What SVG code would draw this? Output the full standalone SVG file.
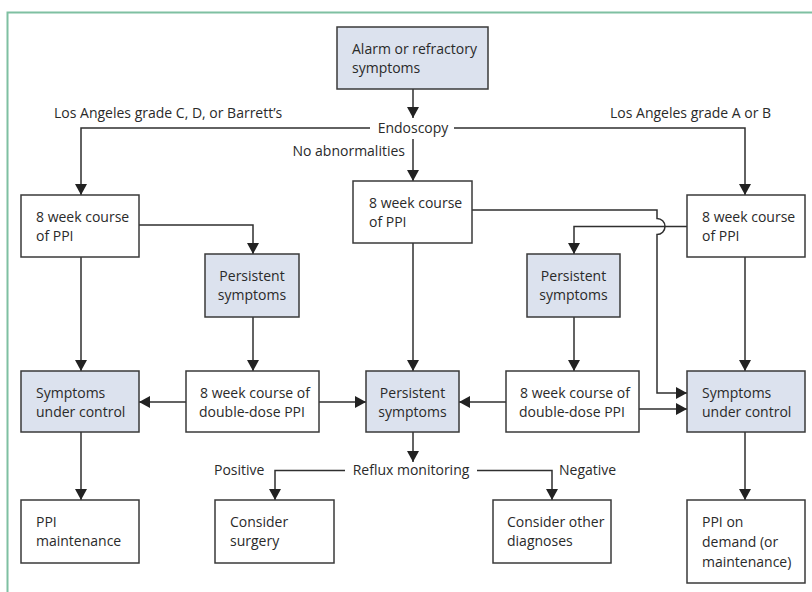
<svg xmlns="http://www.w3.org/2000/svg" width="812" height="592" viewBox="0 0 812 592">
<style>
.box{fill:#ffffff;stroke:#3a3a3a;stroke-width:1.5}
.hl{fill:#dce2ee}
.t{font-family:"Open Sans","Noto Sans",sans-serif;font-size:14px;fill:#2a2a2a}
.c{text-anchor:middle}
.e{text-anchor:end}
.ln{fill:none;stroke:#2f2f2f;stroke-width:1.5}
</style>
<defs>
<marker id="ah" markerUnits="userSpaceOnUse" markerWidth="13" markerHeight="13" refX="11" refY="6" orient="auto">
<path d="M0,0 L11,6 L0,12 z" fill="#222"/>
</marker>
</defs>
<rect x="0" y="0" width="812" height="592" fill="#ffffff"/>
<path d="M7.5,600 L7.5,12.5 L820,12.5" fill="none" stroke="#7fc0a2" stroke-width="2"/>

<g id="connectors">
<path class="ln" marker-end="url(#ah)" d="M413,89 L413,118"/>
<path class="ln" marker-end="url(#ah)" d="M370,128 L81,128 L81,195"/>
<path class="ln" marker-end="url(#ah)" d="M454,128 L745,128 L745,195"/>
<path class="ln" marker-end="url(#ah)" d="M413,139 L413,181"/>
<path class="ln" marker-end="url(#ah)" d="M139,225 L253,225 L253,254"/>
<path class="ln" marker-end="url(#ah)" d="M687,226.5 L574,226.5 L574,254"/>
<path class="ln" marker-end="url(#ah)" d="M472,210 L657,210 L657,218.5 A8,8 0 0 1 657,234.5 L657,393 L687,393"/>
<path class="ln" marker-end="url(#ah)" d="M81,257 L81,371"/>
<path class="ln" marker-end="url(#ah)" d="M253,317 L253,371"/>
<path class="ln" marker-end="url(#ah)" d="M413,243 L413,371"/>
<path class="ln" marker-end="url(#ah)" d="M574,317 L574,371"/>
<path class="ln" marker-end="url(#ah)" d="M745,257 L745,371"/>
<path class="ln" marker-end="url(#ah)" d="M186,402 L139,402"/>
<path class="ln" marker-end="url(#ah)" d="M319,402 L366,402"/>
<path class="ln" marker-end="url(#ah)" d="M506,402 L459,402"/>
<path class="ln" marker-end="url(#ah)" d="M639,409 L687,409"/>
<path class="ln" marker-end="url(#ah)" d="M413,432 L413,462"/>
<path class="ln" marker-end="url(#ah)" d="M345,470.5 L275,470.5 L275,500"/>
<path class="ln" marker-end="url(#ah)" d="M477,470.5 L552,470.5 L552,500"/>
<path class="ln" marker-end="url(#ah)" d="M81,432 L81,500"/>
<path class="ln" marker-end="url(#ah)" d="M745,432 L745,500"/>
</g>

<g id="labels">
<text class="t c" x="413" y="132.5">Endoscopy</text>
<text class="t" x="54" y="118">Los Angeles grade C, D, or Barrett’s</text>
<text class="t" x="610" y="118">Los Angeles grade A or B</text>
<text class="t e" x="405" y="156">No abnormalities</text>
<text class="t c" x="411" y="475">Reflux monitoring</text>
<text class="t" x="214" y="475">Positive</text>
<text class="t" x="559" y="475">Negative</text>
</g>

<g id="alarm"><rect class="box hl" x="337" y="27" width="151" height="62"/>
<text class="t" x="352" y="54">Alarm or refractory</text><text class="t" x="352" y="73">symptoms</text></g>

<g id="ppi_left"><rect class="box" x="21" y="195" width="118" height="62"/>
<text class="t" x="36" y="222">8 week course</text><text class="t" x="36" y="241">of PPI</text></g>

<g id="ppi_mid"><rect class="box" x="353" y="181" width="119" height="62"/>
<text class="t" x="369" y="208">8 week course</text><text class="t" x="369" y="227">of PPI</text></g>

<g id="ppi_right"><rect class="box" x="687" y="195" width="118" height="62"/>
<text class="t" x="702" y="222">8 week course</text><text class="t" x="702" y="241">of PPI</text></g>

<g id="persist_left"><rect class="box hl" x="205" y="254" width="94" height="63"/>
<text class="t c" x="252" y="281">Persistent</text><text class="t c" x="252" y="300">symptoms</text></g>

<g id="persist_right"><rect class="box hl" x="527" y="254" width="93" height="63"/>
<text class="t c" x="573.5" y="281">Persistent</text><text class="t c" x="573.5" y="300">symptoms</text></g>

<g id="control_left"><rect class="box hl" x="21" y="371" width="118" height="61"/>
<text class="t" x="36" y="397.5">Symptoms</text><text class="t" x="36" y="416.5">under control</text></g>

<g id="double_left"><rect class="box" x="186" y="371" width="133" height="61"/>
<text class="t" x="200" y="397.5">8 week course of</text><text class="t" x="199" y="416.5">double-dose PPI</text></g>

<g id="persist_mid"><rect class="box hl" x="366" y="371" width="93" height="61"/>
<text class="t c" x="412.5" y="397.5">Persistent</text><text class="t c" x="412.5" y="416.5">symptoms</text></g>

<g id="double_right"><rect class="box" x="506" y="371" width="133" height="61"/>
<text class="t" x="520" y="397.5">8 week course of</text><text class="t" x="519" y="416.5">double-dose PPI</text></g>

<g id="control_right"><rect class="box hl" x="687" y="371" width="118" height="61"/>
<text class="t" x="702" y="397.5">Symptoms</text><text class="t" x="702" y="416.5">under control</text></g>

<g id="maintenance"><rect class="box" x="21" y="500" width="118" height="63"/>
<text class="t" x="36" y="527">PPI</text><text class="t" x="36" y="546">maintenance</text></g>

<g id="surgery"><rect class="box" x="215" y="500" width="119" height="63"/>
<text class="t" x="230" y="527">Consider</text><text class="t" x="230" y="546">surgery</text></g>

<g id="other"><rect class="box" x="493" y="500" width="118" height="63"/>
<text class="t" x="507" y="527">Consider other</text><text class="t" x="507" y="546">diagnoses</text></g>

<g id="on_demand"><rect class="box" x="687" y="500" width="118" height="83"/>
<text class="t" x="702" y="527">PPI on</text><text class="t" x="702" y="547">demand (or</text><text class="t" x="702" y="567">maintenance)</text></g>
</svg>
